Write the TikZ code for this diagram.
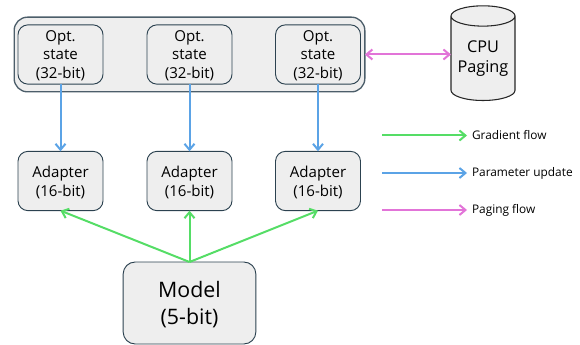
\documentclass[tikz,border=0pt]{standalone}
\usepackage{fontspec}
\setmainfont{Open Sans}
\usetikzlibrary{arrows.meta,shapes.geometric}
\definecolor{boxfill}{HTML}{EEEEEE}
\definecolor{boxline}{HTML}{2C4250}
\definecolor{gradgreen}{HTML}{55DD66}
\definecolor{updateblue}{HTML}{5BA3E6}
\definecolor{pagepink}{HTML}{E274D8}
\begin{document}
\begin{tikzpicture}[x=0.75pt, y=-0.75pt, >={Straight Barb[length=4.5pt, width=7.5pt]},
	box/.style={draw=boxline, fill=boxfill, rounded corners=7.5pt, line width=0.7pt, inner sep=0pt, outer sep=0pt, align=center, text depth=0pt, font=\fontsize{11.3}{14.2}\selectfont, minimum width=63.75pt, minimum height=44.5pt},
	gradflow/.style={draw=gradgreen, line width=1.5pt, ->},
	updateflow/.style={draw=updateblue, line width=1.5pt, ->},
	pageflow/.style={draw=pagepink, line width=1.5pt, ->},
	legend/.style={anchor=west, inner sep=3.75pt, outer sep=0pt, font=\fontsize{8.9}{11}\selectfont}]
			\useasboundingbox (0, 0) rectangle (580, 345);
			\node[box, draw=boxline!85, line width=1pt, rounded corners=10pt, minimum width=263pt, minimum height=56pt] (group) at (189.5, 54.5) {};
			\node[box] (opt1) at (60.5, 54.5) {Opt.\\state\\(32-bit)};
			\node[box] (opt2) at (189.5, 54.5) {Opt.\\state\\(32-bit)};
			\node[box] (opt3) at (318, 54.5) {Opt.\\state\\(32-bit)};
			\node[box] (adapter1) at (60.5, 181) {Adapter\\(16-bit)};
			\node[box] (adapter2) at (189.5, 181) {Adapter\\(16-bit)};
			\node[box] (adapter3) at (318, 181) {Adapter\\(16-bit)};
			\node[box, font=\fontsize{16}{20.5}\selectfont, minimum width=99.5pt, minimum height=61.5pt, rounded corners=9pt] (model) at (189.5, 303) {Model\\(5-bit)};
			\node[cylinder, shape border rotate=90, aspect=0.4, draw=black!85, fill=boxfill, line width=0.8pt, inner sep=0pt, outer sep=0pt, align=center, font=\fontsize{12.2}{15}\selectfont, minimum width=48pt, minimum height=71pt] (cpu) at (483, 58.5) {CPU\\Paging};
			\draw[updateflow] (opt1) -- (adapter1);
			\draw[updateflow] (opt2) -- (adapter2);
			\draw[updateflow] (opt3) -- (adapter3);
			\draw[gradflow] (model.north) -- (adapter1.south);
			\draw[gradflow] (model.north) -- (adapter2.south);
			\draw[gradflow] (model.north) -- (adapter3.south);
			\draw[pageflow, <->] (group.east) -- (group.east -| cpu.west);
			% legend
			\coordinate (gradstart) at (382, 135.5);
			\coordinate (updatestart) at (382, 173);
			\coordinate (pagestart) at (382, 210);
			\node[legend] (gradtext) at (467, 135.5) {Gradient flow};
			\node[legend] (updatetext) at (467, 173) {Parameter update};
			\node[legend] (pagetext) at (467, 210) {Paging flow};
			\draw[gradflow] (gradstart) -- (gradtext.west);
			\draw[updateflow] (updatestart) -- (updatetext.west);
			\draw[pageflow] (pagestart) -- (pagetext.west);
		\end{tikzpicture}
\end{document}
